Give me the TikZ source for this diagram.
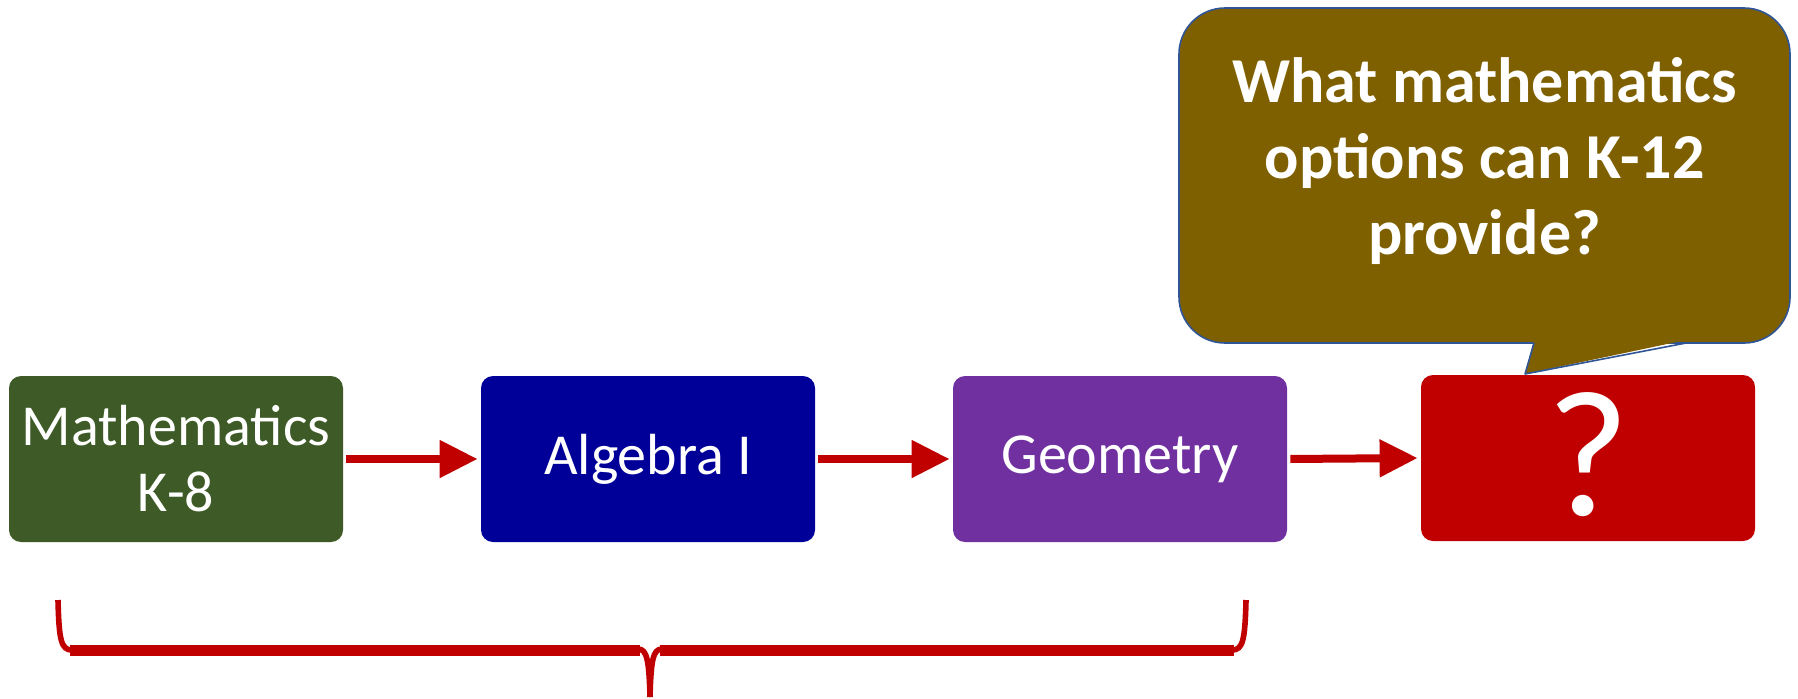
\documentclass[tikz,border=0pt]{standalone}
\usepackage{fontspec}
\setmainfont{Carlito}
\usepackage{tikz}
\usetikzlibrary{arrows.meta}
\definecolor{kgreen}{HTML}{3D5A27}
\definecolor{algblue}{HTML}{000099}
\definecolor{geopurple}{HTML}{7030A0}
\definecolor{askred}{HTML}{C00000}
\definecolor{olive}{HTML}{7F6000}
\definecolor{rim}{HTML}{2F5597}

\begin{document}
\begin{tikzpicture}[x=0.5pt, y=-0.5pt,
  stage/.style={rounded corners=6pt, minimum width=167pt, minimum height=83pt,
                inner sep=0pt, text=white, align=center, font=\fontsize{29}{33}\selectfont},
  flow/.style={draw=askred, line width=4pt, -{Triangle[length=19pt, width=18pt]},
               shorten <=1.5pt, shorten >=1.5pt},
  bubble/.style={draw=rim, line width=0.8pt, fill=olive, rounded corners=23pt,
                 minimum width=305.5pt, minimum height=167.5pt, inner sep=0pt},
  asktxt/.style={text=white, align=center, font=\bfseries\fontsize{32}{38}\selectfont},
  brace/.style={draw=askred, line width=2.8pt},
  bracebar/.style={draw=askred, line width=5.5pt}]
\useasboundingbox (0,0) rectangle (1798,698);
\foreach \i/\c/\t in {1/kgreen/{Mathematics\\K-8}, 2/algblue/Algebra I, 3/geopurple/Geometry}
  \node[stage, fill=\c] (m\i) at ({176+(\i-1)*472}, 459) {\t};
\node[stage, fill=askred, font=\fontsize{90}{90}\selectfont] (m4) at (1588, 458) {\raisebox{4pt}{?}};
\foreach \i/\j in {1/2, 2/3, 3/4}
  \draw[flow] (m\i.east) -- (m\j.west);
% speech bubble over the open step
\node[bubble] (ask) at (1484.5, 175.5) {};
\coordinate (tip) at (1525, 374);
\fill[olive] (1534, 340) -- (tip) -- (1686, 340) -- cycle;
\draw[rim, line width=0.8pt, line join=round] (1534, 343) -- (tip) -- (1686, 343);
\node[asktxt] (askt) at (ask.center) [yshift=7pt] {What mathematics\\options can K-12\\provide?};
% brace under the first three steps
\draw[brace] (58, 600) .. controls (59, 640) and (61, 650) .. (72, 650);
\draw[brace] (1246, 600) .. controls (1245, 640) and (1243, 650) .. (1232, 650);
\draw[bracebar] (70, 650) -- (640, 650) (1234, 650) -- (660, 650);
\draw[brace] (638, 649) .. controls (647, 649) and (649, 660) .. (650, 697);
\draw[brace] (662, 649) .. controls (653, 649) and (651, 660) .. (650, 697);
\end{tikzpicture}
\end{document}
